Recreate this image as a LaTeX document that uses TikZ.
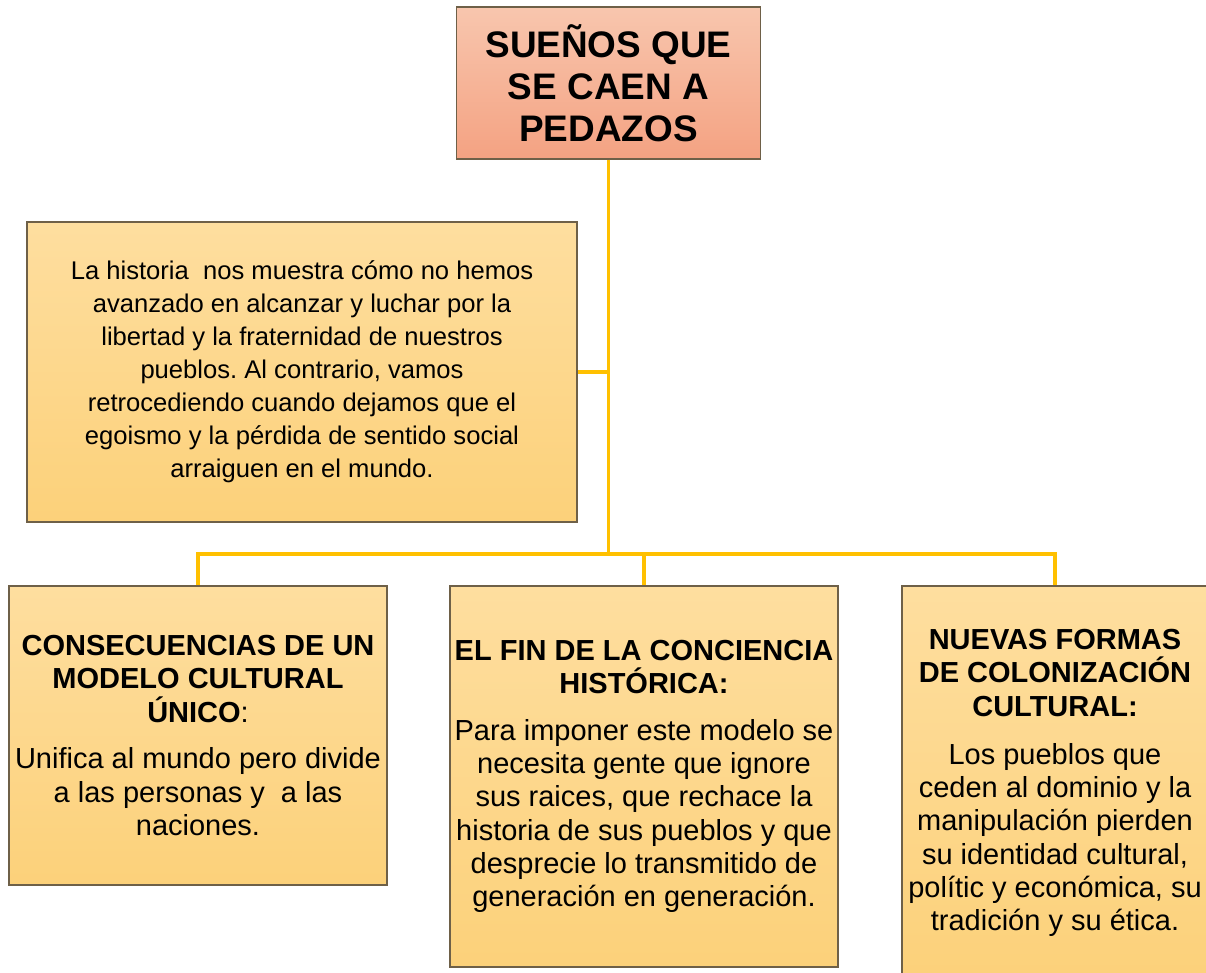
\documentclass[tikz,border=0pt]{standalone}
\usepackage{fontspec}
\setmainfont{Liberation Sans}
\frenchspacing
\definecolor{conn}{HTML}{FFC000}
\definecolor{edge}{HTML}{6E6048}
\definecolor{salmonT}{HTML}{F8C6AE}
\definecolor{salmonB}{HTML}{F4A282}
\definecolor{goldT}{HTML}{FEDE9F}
\definecolor{goldB}{HTML}{FCD17A}
\tikzset{
  titlebox/.style={draw=edge, line width=0.8pt, top color=salmonT, bottom color=salmonB,
    inner sep=0pt, align=center, font=\fontsize{27.7}{31.5}\selectfont\bfseries},
  infobox/.style={draw=edge, line width=0.8pt, top color=goldT, bottom color=goldB,
    inner sep=0pt, align=center},
  bodyA/.style={font=\fontsize{19.2}{24.75}\selectfont},
  bodyB/.style={font=\fontsize{21.75}{25}\selectfont},
  link/.style={draw=conn, line width=2.4pt}
}
\begin{document}
\begin{tikzpicture}[x=0.75pt,y=-0.75pt]
\useasboundingbox (0,0) rectangle (1206,972);
\clip (0,0) rectangle (1206,972);
\fill[white] (0,0) rectangle (1206,972);

\coordinate (j) at (608.5,554);

\node[titlebox, minimum width=304*0.75pt, minimum height=152*0.75pt] (top) at (608.5,83)
  {SUEÑOS QUE\\SE CAEN A\\PEDAZOS};

\node[infobox, bodyA, minimum width=550*0.75pt, minimum height=300*0.75pt] (hist) at (302,372)
  {La historia \ nos muestra cómo no hemos\\avanzado en alcanzar y luchar por la\\libertad y la fraternidad de nuestros\\pueblos. Al contrario, vamos\\retrocediendo cuando dejamos que el\\egoismo y la pérdida de sentido social\\arraiguen en el mundo.};

\node[infobox, bodyB, minimum width=378*0.75pt, minimum height=299*0.75pt] (b1) at (198,735.5)
  {\textbf{CONSECUENCIAS DE UN}\\\textbf{MODELO CULTURAL}\\\textbf{ÚNICO}:\\[10pt]Unifica al mundo pero divide\\a las personas y \ a las\\naciones.};

\node[infobox, bodyB, minimum width=388*0.75pt, minimum height=381*0.75pt] (b2) at (644,776.5)
  {\textbf{EL FIN DE LA CONCIENCIA}\\\textbf{HISTÓRICA:}\\[10pt]Para imponer este modelo se\\necesita gente que ignore\\sus raices, que rechace la\\historia de sus pueblos y que\\desprecie lo transmitido de\\generación en generación.};

\node[infobox, bodyB, minimum width=306*0.75pt, minimum height=394*0.75pt] (b3) at (1055,783)
  {\textbf{NUEVAS FORMAS}\\\textbf{DE COLONIZACIÓN}\\\textbf{CULTURAL:}\\[11pt]Los pueblos que\\ceden al dominio y la\\manipulación pierden\\su identidad cultural,\\polític y económica, su\\tradición y su ética.};

\draw[link] (top.south) -- (j);
\draw[link] (hist.east) -- (hist.east -| j);
\draw[link] (j) -| (b1.north);
\draw[link] (j) -| (b2.north);
\draw[link] (j) -| (b3.north);
\end{tikzpicture}
\end{document}
